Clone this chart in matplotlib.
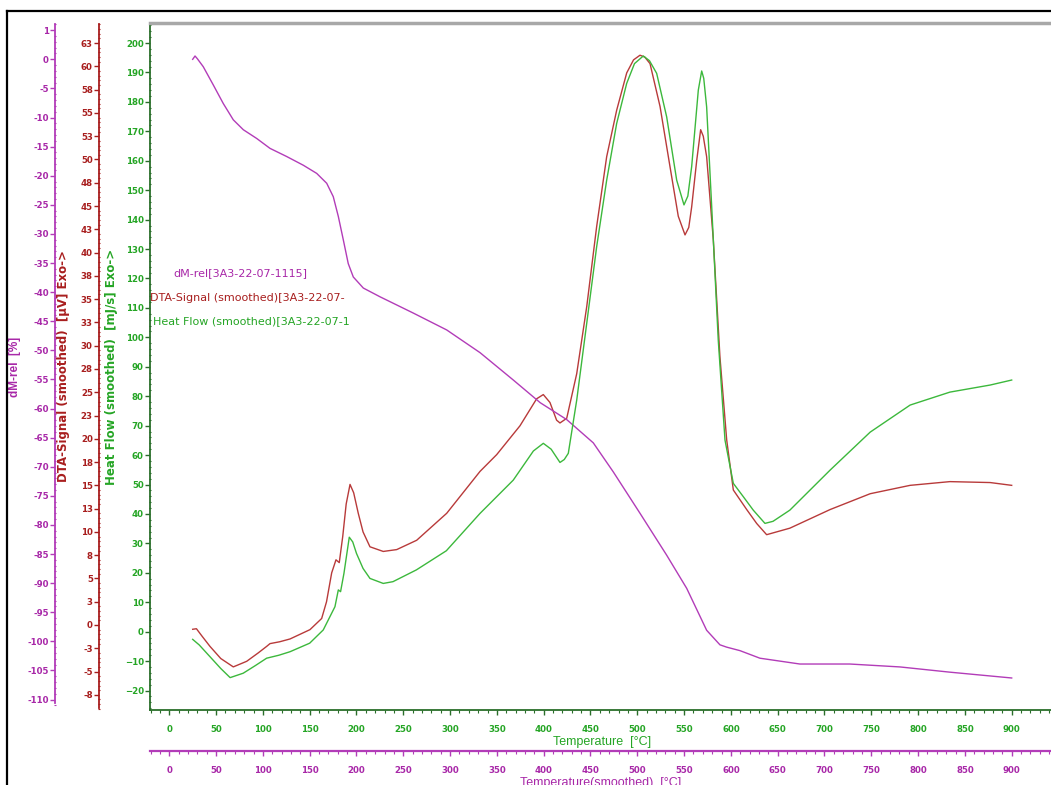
import numpy as np
import matplotlib
matplotlib.use("Agg")
import matplotlib.pyplot as plt
from matplotlib.ticker import MultipleLocator, FixedLocator, FixedFormatter
from matplotlib.lines import Line2D

plt.rcParams['font.family'] = ['Liberation Sans', 'DejaVu Sans']

# ---------------- data ----------------
hf_temp = [25, 32, 43.5, 55, 65, 79, 92, 104, 117, 129, 150, 164.5, 177, 180.6, 183, 186.6,
           192.3, 196, 200, 207, 214.4, 228.6, 239, 264, 296, 332, 367.5, 389, 399.6, 408,
           417.4, 422, 426.3, 435.3, 446, 456.6, 467.3, 478, 488.7, 497, 506.4, 513, 520.7,
           531.4, 542.1, 549.9, 554, 558.1, 565.2, 568.8, 571, 574.1, 579.5, 586.5, 593.7,
           602.6, 613.2, 623.9, 636.4, 645, 663, 706, 748.8, 791.5, 834, 877, 900]
hf_vals = [-2.6, -4.5, -8.5, -12.5, -15.6, -14.1, -11.5, -9.0, -8.0, -6.8, -3.9, 0.6, 8.5,
           14.2, 13.6, 19.8, 32.1, 30.5, 26.6, 21.5, 18.1, 16.4, 17.0, 21.0, 27.5, 40.2, 51.5,
           61.4, 64.0, 62.0, 57.5, 58.5, 60.6, 78.7, 104.8, 130.8, 153.4, 172.7, 186.3, 193.0,
           195.6, 194.0, 189.7, 174.9, 153.4, 145.0, 148.0, 158.0, 184.0, 190.5, 188.0, 178.3,
           144.4, 99.1, 65.1, 50.4, 45.9, 41.3, 36.8, 37.5, 41.3, 54.9, 67.8, 77.0, 81.4,
           83.8, 85.5]

dta_temp = [25, 29, 35, 43.5, 55, 68.4, 82.7, 95, 104, 107.6, 118, 129, 150.3, 162.8, 168,
            173.5, 178.1, 181.6, 185.3, 189, 193.1, 197, 201.9, 207, 214.4, 228.6, 243, 264.3,
            296.4, 332, 349.8, 374.7, 392.5, 399.6, 406.7, 413.8, 417.4, 424.6, 435.3, 446,
            456.6, 467.3, 478, 488.7, 496, 502.9, 508, 513.6, 524.3, 535, 543.8, 551, 555,
            558.1, 563.5, 567.7, 570.5, 574.1, 581.2, 588.3, 595.5, 602.6, 616.9, 627.6,
            638.2, 663, 706, 748.8, 791.5, 834, 877, 900]
dta_vals = [-0.46, -0.4, -1.2, -2.3, -3.6, -4.5, -3.9, -3.0, -2.3, -2.0, -1.8, -1.5, -0.5,
            0.7, 2.5, 5.6, 7.0, 6.7, 9.5, 13.0, 15.1, 14.2, 12.0, 10.0, 8.4, 7.9, 8.1, 9.1,
            12.0, 16.5, 18.3, 21.4, 24.3, 24.75, 23.9, 22.0, 21.7, 22.2, 27.0, 34.2, 42.8,
            50.3, 55.3, 59.3, 60.7, 61.2, 61.0, 60.3, 55.7, 49.2, 43.9, 41.9, 42.7, 44.9,
            49.9, 53.2, 52.5, 50.3, 41.4, 28.8, 19.9, 14.5, 12.4, 10.9, 9.7, 10.4, 12.4,
            14.1, 15.0, 15.4, 15.3, 15.0]

dm_temp = [25, 27.5, 30, 36.3, 47, 57.7, 68.4, 79.1, 93.4, 107.6, 125.4, 143.2, 157.5, 168.2,
           175.2, 180.6, 185.9, 191.2, 196.6, 207.3, 225.1, 242.9, 260.7, 296.4, 332, 367.5,
           396.3, 424.6, 453, 474.4, 502.9, 531.4, 552.8, 574.1, 588.3, 595.5, 609.7, 631,
           673.7, 727, 780.6, 834, 900]
dm_vals = [0.0, 0.57, 0.1, -1.27, -4.4, -7.6, -10.4, -12.1, -13.6, -15.3, -16.7, -18.2,
           -19.6, -21.3, -23.6, -27.0, -31.0, -35.1, -37.4, -39.3, -40.8, -42.2, -43.6, -46.5,
           -50.4, -55.1, -59.0, -61.9, -65.9, -70.9, -78.0, -85.2, -90.9, -98.1, -100.6,
           -101.0, -101.6, -102.9, -103.9, -103.9, -104.4, -105.3, -106.3]

hf_ticks = list(range(-20, 201, 10))
dta_ticks = [-7.5 + 2.5 * i for i in range(29)]
dta_tick_labels = ['-8', '-5', '-3', '0', '3', '5', '8', '10', '13', '15', '18', '20', '23',
                   '25', '28', '30', '33', '35', '38', '40', '43', '45', '48', '50', '53', '55',
                   '58', '60', '63']
dm_ticks = list(range(-110, 6, 5))
dm_tick_labels = [str(v) for v in range(-110, 1, 5)] + ['1']
temp_ticks = list(range(0, 901, 50))

legend_texts = ['dM-rel[3A3-22-07-1115]', 'DTA-Signal (smoothed)[3A3-22-07-',
                'Heat Flow (smoothed)[3A3-22-07-1']

# ---------------- style ----------------
W, H = 1051, 785
PX = 72 / 100  # points per pixel
PURPLE = '#b23cb8'
PURPLE_T = '#a828a8'
RED = '#a81e1e'
RED_C = '#b83a3a'
GREEN = '#25a525'
GREEN_C = '#3cb83c'
GREEN_D = '#2a6e2a'
DJ = ['DejaVu Sans']

fig = plt.figure(figsize=(W / 100, H / 100), dpi=100)
fig.patch.set_facecolor('white')

L, T, B = 150, 23, 710
ax = fig.add_axes([L / W, (H - B) / H, (W - L) / W, (B - T) / H])
ax.set_xlim(-20.6, 942)
ax.set_ylim(-26.6, 206.8)

ax_dta = ax.twinx()
ax_dta.set_ylim(-9.13, 64.66)
ax_dm = ax.twinx()
ax_dm.set_ylim(-111.8, 6.24)


def bold_labels(labels):
    for lab in labels:
        lab.set_family(DJ)
        lab.set_fontsize(6.2)
        lab.set_fontweight('bold')


# main (heat flow) axis
ax.spines['right'].set_visible(False)
ax.spines['top'].set_color('#a8a8a8')
ax.spines['top'].set_linewidth(2.5)
ax.spines['left'].set_color(GREEN_D)
ax.spines['left'].set_linewidth(1.3)
ax.spines['bottom'].set_color(GREEN_D)
ax.spines['bottom'].set_linewidth(1.3)
ax.yaxis.set_major_locator(FixedLocator(hf_ticks))
ax.yaxis.set_minor_locator(MultipleLocator(2))
ax.xaxis.set_major_locator(FixedLocator(temp_ticks))
ax.xaxis.set_minor_locator(MultipleLocator(10))
ax.tick_params(axis='y', which='major', direction='out', length=3.5, width=1, color=GREEN_D,
               labelcolor=GREEN, pad=1)
ax.tick_params(axis='y', which='minor', direction='inout', length=2, width=0.8, color=GREEN_D)
ax.tick_params(axis='x', which='major', direction='out', length=3.5, width=1, color=GREEN_D,
               labelcolor=GREEN, pad=7)
ax.tick_params(axis='x', which='minor', direction='out', length=2, width=0.8, color=GREEN_D)
bold_labels(ax.get_xticklabels() + ax.get_yticklabels())
ax.set_xlabel('Temperature  [°C]', color=GREEN, fontsize=9)
ax.xaxis.set_label_coords(0.502, -(742 - B) / (B - T))
ax.xaxis.label.set_va('center')
ax.set_ylabel('Heat Flow (smoothed)  [mJ/s] Exo->', color=GREEN, fontsize=8.5,
              fontweight='bold', family=DJ)
ax.yaxis.set_label_coords((112 - L) / (W - L), 0.5)
ax.yaxis.label.set_va('center')

# DTA axis
for s in ['right', 'top', 'bottom']:
    ax_dta.spines[s].set_visible(False)
ax_dta.yaxis.set_ticks_position('left')
ax_dta.yaxis.set_label_position('left')
ax_dta.spines['left'].set_visible(True)
ax_dta.spines['left'].set_position(('outward', (L - 99) * PX))
ax_dta.spines['left'].set_color(RED)
ax_dta.spines['left'].set_linewidth(1.3)
ax_dta.spines['left'].set_bounds(-8.9, 64.5)
ax_dta.yaxis.set_major_locator(FixedLocator(dta_ticks))
ax_dta.yaxis.set_major_formatter(FixedFormatter(dta_tick_labels))
ax_dta.yaxis.set_minor_locator(MultipleLocator(0.5))
ax_dta.tick_params(axis='y', which='major', direction='out', length=3.5, width=1, color=RED,
                   labelcolor=RED, pad=1)
ax_dta.tick_params(axis='y', which='minor', direction='inout', length=2, width=0.8, color=RED)
bold_labels(ax_dta.get_yticklabels())
ax_dta.set_ylabel('DTA-Signal (smoothed)  [µV] Exo->', color=RED, fontsize=8.5,
                  fontweight='bold', family=DJ)
ax_dta.yaxis.set_label_coords((63 - L) / (W - L), 0.5)
ax_dta.yaxis.label.set_va('center')

# dM axis
for s in ['right', 'top', 'bottom']:
    ax_dm.spines[s].set_visible(False)
ax_dm.yaxis.set_ticks_position('left')
ax_dm.yaxis.set_label_position('left')
ax_dm.spines['left'].set_visible(True)
ax_dm.spines['left'].set_position(('outward', (L - 55) * PX))
ax_dm.spines['left'].set_color(PURPLE)
ax_dm.spines['left'].set_linewidth(1.3)
ax_dm.spines['left'].set_bounds(-110.6, 6.0)
ax_dm.yaxis.set_major_locator(FixedLocator(dm_ticks))
ax_dm.yaxis.set_major_formatter(FixedFormatter(dm_tick_labels))
ax_dm.yaxis.set_minor_locator(MultipleLocator(1))
ax_dm.tick_params(axis='y', which='major', direction='out', length=3.5, width=1, color=PURPLE,
                  labelcolor=PURPLE_T, pad=1)
ax_dm.tick_params(axis='y', which='minor', direction='inout', length=2, width=0.8, color=PURPLE)
bold_labels(ax_dm.get_yticklabels())
ax_dm.set_ylabel('dM-rel  [%]', color=PURPLE_T, fontsize=8.5, fontweight='bold')
ax_dm.yaxis.set_label_coords((15 - L) / (W - L), 0.5)
ax_dm.yaxis.label.set_va('center')

# secondary temperature axis (purple)
sec = ax.secondary_xaxis(-(751 - B) / (B - T))
sec.spines['bottom'].set_color(PURPLE)
sec.spines['bottom'].set_linewidth(1.6)
sec.xaxis.set_major_locator(FixedLocator(temp_ticks))
sec.xaxis.set_minor_locator(MultipleLocator(10))
sec.tick_params(axis='x', which='major', direction='out', length=3.5, width=1, color=PURPLE,
                labelcolor=PURPLE_T, pad=7)
sec.tick_params(axis='x', which='minor', direction='out', length=2, width=0.8, color=PURPLE)
bold_labels(sec.get_xticklabels())
sec.set_xlabel('Temperature(smoothed)  [°C]', color=PURPLE_T, fontsize=9, labelpad=2)

# curves
ax_dm.plot(dm_temp, dm_vals, color=PURPLE, lw=1.0)
ax_dta.plot(dta_temp, dta_vals, color=RED_C, lw=1.0)
ax.plot(hf_temp, hf_vals, color=GREEN_C, lw=1.0)
ax.set_zorder(ax_dm.get_zorder() + 1)
ax.patch.set_visible(False)

# legend-like texts
leg_kw = dict(fontsize=8, va='center', ha='left', family=DJ)
fig.text(173 / W, (H - 273) / H, legend_texts[0], color=PURPLE_T, **leg_kw)
fig.text(150 / W, (H - 298) / H, legend_texts[1], color=RED, **leg_kw)
fig.text(153 / W, (H - 321) / H, legend_texts[2], color=GREEN, **leg_kw)

# outer frame
fig.add_artist(Line2D([7 / W, 7 / W], [0, (H - 11) / H], transform=fig.transFigure,
                      color='black', lw=1.6))
fig.add_artist(Line2D([7 / W, 1], [(H - 11) / H, (H - 11) / H], transform=fig.transFigure,
                      color='black', lw=1.6))

fig.savefig('out.png', dpi=100, facecolor='white')
